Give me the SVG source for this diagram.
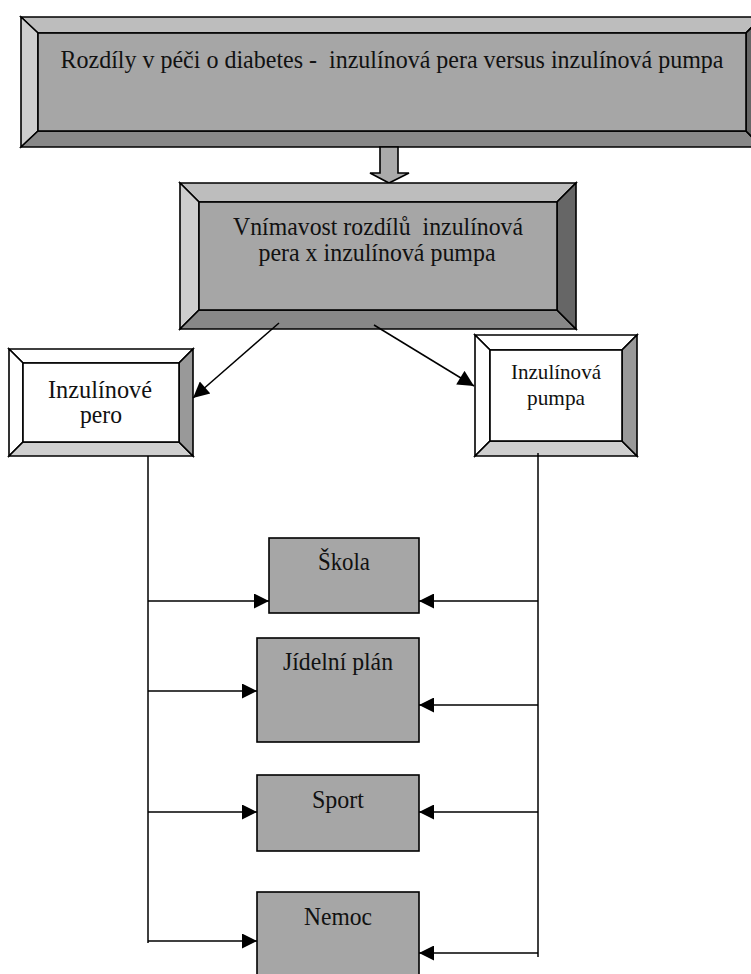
<svg xmlns="http://www.w3.org/2000/svg" width="751" height="974" viewBox="0 0 751 974">
<defs>
<style>
.b{stroke:#000;stroke-width:1.6;stroke-linejoin:miter}
.t{font-family:"Liberation Serif","Times New Roman",serif;fill:#111;text-anchor:middle;white-space:pre}
.c{fill:none;stroke:#000;stroke-width:1.5}
.g1{fill:#bdbdbd}.g2{fill:#cecece}.g3{fill:#888}.g4{fill:#666}.g0{fill:#a6a6a6}
.w{fill:#fff}.l2{fill:#cfcfcf}.l4{fill:#999}
</style>
<marker id="ah" viewBox="0 0 10 10" refX="10" refY="5" markerWidth="15" markerHeight="15" markerUnits="userSpaceOnUse" orient="auto">
<path d="M0,0 L10,5 L0,10 Z" fill="#000"/>
</marker>
<marker id="ah2" viewBox="0 0 10 10" refX="10" refY="5" markerWidth="18" markerHeight="16" markerUnits="userSpaceOnUse" orient="auto">
<path d="M0,0 L10,5 L0,10 Z" fill="#000"/>
</marker>
</defs>

<g id="title">
<polygon class="b g1" points="21,17 762,17 746,33 38,33"/>
<polygon class="b g2" points="21,17 38,33 38,131 21,147"/>
<polygon class="b g3" points="21,147 38,131 746,131 762,147"/>
<polygon class="b g4" points="762,17 762,147 746,131 746,33"/>
<rect class="b g0" x="38" y="33" width="708" height="98"/>
<text class="t" x="392" y="68" font-size="25.5" textLength="663" lengthAdjust="spacingAndGlyphs" xml:space="preserve">Rozdíly v péči o diabetes -  inzulínová pera versus inzulínová pumpa</text>
</g>

<g id="block-arrow">
<polygon class="b" fill="#aaa" points="380,147 398,147 398,173 409,173 389,183 370,173 380,173"/>
</g>

<g id="perception">
<polygon class="b g1" points="180,183 576,183 557,202 199,202"/>
<polygon class="b g2" points="180,183 199,202 199,310 180,329"/>
<polygon class="b g3" points="180,329 199,310 557,310 576,329"/>
<polygon class="b g4" points="576,183 576,329 557,310 557,202"/>
<rect class="b g0" x="199" y="202" width="358" height="108"/>
<text class="t" x="378" y="235" font-size="25" textLength="290" lengthAdjust="spacingAndGlyphs" xml:space="preserve">Vnímavost rozdílů  inzulínová</text>
<text class="t" x="377" y="261" font-size="25" textLength="237" lengthAdjust="spacingAndGlyphs">pera x inzulínová pumpa</text>
</g>

<g id="pen">
<polygon class="b w" points="9,349 193,349 179,363 23,363"/>
<polygon class="b w" points="9,349 23,363 23,442 9,456"/>
<polygon class="b l2" points="9,456 23,442 179,442 193,456"/>
<polygon class="b l4" points="193,349 193,456 179,442 179,363"/>
<rect class="b w" x="23" y="363" width="156" height="79"/>
<text class="t" x="100" y="398" font-size="25" textLength="104" lengthAdjust="spacingAndGlyphs">Inzulínové</text>
<text class="t" x="101" y="423" font-size="25" textLength="42" lengthAdjust="spacingAndGlyphs">pero</text>
</g>

<g id="pump">
<polygon class="b w" points="475,335 637,335 622,350 490,350"/>
<polygon class="b w" points="475,335 490,350 490,441 475,456"/>
<polygon class="b l2" points="475,456 490,441 622,441 637,456"/>
<polygon class="b l4" points="637,335 637,456 622,441 622,350"/>
<rect class="b w" x="490" y="350" width="132" height="91"/>
<text class="t" x="556" y="379" font-size="22" textLength="90" lengthAdjust="spacingAndGlyphs">Inzulínová</text>
<text class="t" x="556" y="405" font-size="22" textLength="58" lengthAdjust="spacingAndGlyphs">pumpa</text>
</g>

<g id="skola">
<rect class="b g0" x="269" y="538" width="150" height="75"/>
<text class="t" x="344" y="570" font-size="25" textLength="52" lengthAdjust="spacingAndGlyphs">Škola</text>
</g>
<g id="jidelni">
<rect class="b g0" x="257" y="638" width="162" height="104"/>
<text class="t" x="338" y="670" font-size="25" textLength="110" lengthAdjust="spacingAndGlyphs">Jídelní plán</text>
</g>
<g id="sport">
<rect class="b g0" x="257" y="775" width="162" height="76"/>
<text class="t" x="338" y="808" font-size="25" textLength="52" lengthAdjust="spacingAndGlyphs">Sport</text>
</g>
<g id="nemoc">
<rect class="b g0" x="257" y="892" width="162" height="90"/>
<text class="t" x="338" y="925" font-size="25" textLength="68" lengthAdjust="spacingAndGlyphs">Nemoc</text>
</g>

<g id="connectors">
<line class="c" x1="279" y1="323" x2="193" y2="398" marker-end="url(#ah2)"/>
<line class="c" x1="374" y1="325" x2="474" y2="386" marker-end="url(#ah2)"/>
<line class="c" x1="148" y1="456" x2="148" y2="943"/>
<line class="c" x1="538" y1="453" x2="538" y2="957"/>
<line class="c" x1="148" y1="601" x2="269" y2="601" marker-end="url(#ah)"/>
<line class="c" x1="538" y1="601" x2="419" y2="601" marker-end="url(#ah)"/>
<line class="c" x1="148" y1="691" x2="257" y2="691" marker-end="url(#ah)"/>
<line class="c" x1="538" y1="705" x2="419" y2="705" marker-end="url(#ah)"/>
<line class="c" x1="148" y1="812" x2="257" y2="812" marker-end="url(#ah)"/>
<line class="c" x1="538" y1="812" x2="419" y2="812" marker-end="url(#ah)"/>
<line class="c" x1="148" y1="941" x2="257" y2="941" marker-end="url(#ah)"/>
<line class="c" x1="538" y1="953" x2="419" y2="953" marker-end="url(#ah)"/>
</g>
</svg>
